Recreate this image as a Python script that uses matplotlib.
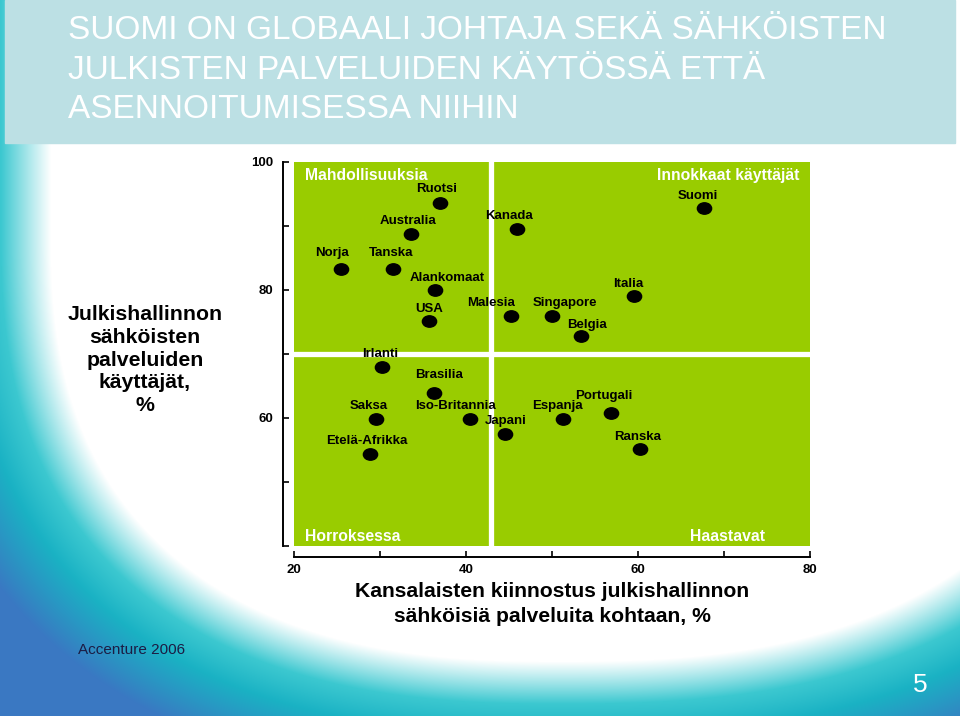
import numpy as np
import matplotlib.pyplot as plt
from matplotlib.patches import Rectangle
from matplotlib.path import Path
from matplotlib.transforms import Affine2D

plt.rcParams['font.family'] = ['Liberation Sans', 'DejaVu Sans']

# data
countries = ['Ruotsi', 'Australia', 'Kanada', 'Suomi', 'Norja', 'Tanska',
             'Alankomaat', 'USA', 'Malesia', 'Singapore', 'Belgia', 'Italia',
             'Irlanti', 'Brasilia', 'Saksa', 'Iso-Britannia', 'Japani',
             'Etelä-Afrikka', 'Espanja', 'Portugali', 'Ranska']
interest = [37.0, 33.6, 45.9, 67.7, 25.5, 31.5,
            36.4, 35.7, 45.2, 50.0, 53.4, 59.5,
            30.2, 36.3, 29.5, 40.5, 44.5,
            28.8, 51.3, 56.9, 60.2]
users = [93.6, 88.8, 89.5, 92.8, 83.3, 83.3,
         80.0, 75.2, 75.9, 75.9, 72.8, 79.1,
         68.0, 63.9, 59.8, 59.8, 57.5,
         54.4, 59.8, 60.8, 55.2]
# label offsets (pixels) from each dot
label_dx = [-4, -3, -8, -6, -9, -2, 12, 0, -20, 13, 6, -5,
            -2, 5, -7, -15, 1, -3, -6, -8, -2]
label_dy = [14, 13, 13, 12, 16, 16, 12, 12, 13, 13, 11, 12,
            13, 18, 13, 13, 13, 13, 13, 17, 12]

x_split = 42.85
y_split = 70
quadrants = ['Mahdollisuuksia', 'Innokkaat käyttäjät', 'Horroksessa', 'Haastavat']

title_lines = ['SUOMI ON GLOBAALI JOHTAJA SEKÄ SÄHKÖISTEN',
               'JULKISTEN PALVELUIDEN KÄYTÖSSÄ ETTÄ',
               'ASENNOITUMISESSA NIIHIN']

fig = plt.figure(figsize=(9.6, 7.16), dpi=100)

# slide background swoosh
H, W = 716, 960
yy, xx = np.mgrid[0:H, 0:W]
cx, cy = 560.0, 230.0
dx = np.where(xx < cx, (cx - xx) / 520.0, (xx - cx) / 560.0)
dy = np.clip((yy - cy) / 440.0, 0, None)
t = dx ** 2.5 + dy ** 2.5
stops = [0, 0.95, 1.2, 1.4, 1.8]
cols = np.array([[255, 255, 255], [255, 255, 255], [60, 200, 208],
                 [26, 178, 196], [58, 120, 194]]) / 255.0
img = np.dstack([np.interp(t, stops, cols[:, i]) for i in range(3)])
bg = fig.add_axes([0, 0, 1, 1], zorder=-10)
bg.imshow(img, extent=(0, W, H, 0), aspect='auto')
bg.set_xlim(0, W)
bg.set_ylim(H, 0)
bg.axis('off')

# title band
fig.patches.append(Rectangle((5 / 960, 1 - 143 / 716), 950 / 960, 143 / 716,
                             transform=fig.transFigure, color='#BCE0E4', zorder=-5))
for line, base in zip(title_lines, [39, 79, 118]):
    fig.text(68 / 960, 1 - base / 716, line, color='white', fontsize=24,
             va='baseline', ha='left')

ax = fig.add_axes([294 / 960, (716 - 546) / 716, 516 / 960, 384 / 716])
ax.set_facecolor('#99CC00')
ax.set_xlim(20, 80)
ax.set_ylim(40, 100)
ax.axvline(x_split, color='white', lw=3.8)
ax.axhline(y_split, color='white', lw=3.8)

ellipse = Path.unit_circle().transformed(Affine2D().scale(1, 0.8))
ax.scatter(interest, users, marker=ellipse, s=105, color='black', zorder=3,
           clip_on=False)
for name, x, y, ox, oy in zip(countries, interest, users, label_dx, label_dy):
    ax.annotate(name, (x, y), xytext=(ox, oy), textcoords='offset pixels',
                ha='center', va='center', fontsize=9.5, weight='bold', color='black')

qkw = dict(transform=ax.transAxes, color='white', fontsize=11.3, weight='bold', va='center')
ax.text(0.021, 0.964, quadrants[0], ha='left', **qkw)
ax.text(0.979, 0.964, quadrants[1], ha='right', **qkw)
ax.text(0.021, 0.024, quadrants[2], ha='left', **qkw)
ax.text(0.913, 0.024, quadrants[3], ha='right', **qkw)

for s in ['top', 'right']:
    ax.spines[s].set_visible(False)
for s in ['left', 'bottom']:
    ax.spines[s].set_position(('outward', 8))
    ax.spines[s].set_linewidth(1.4)

ax.set_xticks([20, 40, 60, 80])
ax.set_xticks([30, 50, 70], minor=True)
ax.set_yticks([40, 60, 80, 100])
ax.set_yticklabels(['', '60', '80', '100'])
ax.set_yticks([50, 70, 90], minor=True)
ax.tick_params(which='both', direction='in', length=4, width=1.2)
ax.tick_params(axis='x', pad=5)
ax.tick_params(axis='y', pad=7)
for lab in ax.get_xticklabels() + ax.get_yticklabels():
    lab.set_fontsize(9.5)
    lab.set_fontweight('bold')

fig.text(145 / 960, 1 - 360 / 716, 'Julkishallinnon\nsähköisten\npalveluiden\nkäyttäjät,\n%',
         ha='center', va='center', multialignment='center', fontsize=15.3,
         weight='bold', linespacing=1.26)
fig.text(552 / 960, 1 - 604 / 716,
         'Kansalaisten kiinnostus julkishallinnon\nsähköisiä palveluita kohtaan, %',
         ha='center', va='center', multialignment='center', fontsize=15.2,
         weight='bold', linespacing=1.35)

fig.text(78 / 960, 1 - 650 / 716, 'Accenture 2006', fontsize=11, color='#1C1C44',
         ha='left', va='center')
fig.text(920 / 960, 1 - 685 / 716, '5', fontsize=19, color='white',
         ha='center', va='center')

plt.savefig('out.png', dpi=100)
